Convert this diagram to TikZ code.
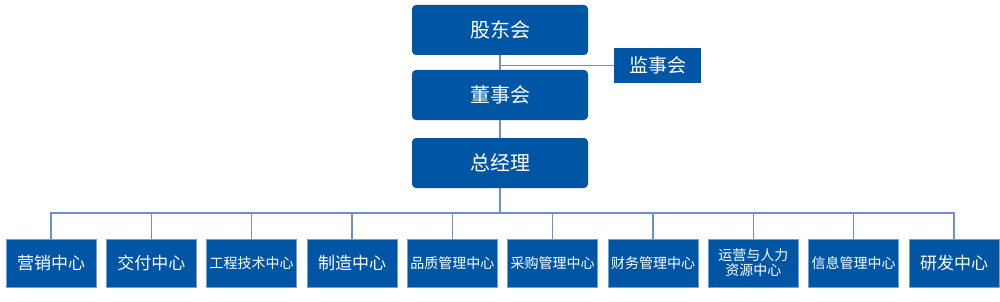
\documentclass[tikz,border=0pt]{standalone}
\usepackage{fontspec}
\newfontfamily\cjk{Noto Sans CJK SC}
\definecolor{boxblue}{HTML}{0055A5}
\definecolor{linkblue}{HTML}{6C8FD2}
\begin{document}
\begin{tikzpicture}[x=1pt,y=-1pt,
  topbox/.style={fill=boxblue,rounded corners=4pt,minimum width=176pt,minimum height=50pt,inner sep=0pt,text=white,font=\cjk\fontsize{20}{22}\selectfont},
  sidebox/.style={fill=boxblue,minimum width=87pt,minimum height=35pt,inner sep=0pt,text=white,font=\cjk\fontsize{19}{21}\selectfont},
  deptbox/.style={fill=boxblue,draw=boxblue!55!white,line width=0.6pt,minimum width=90pt,minimum height=48pt,inner sep=0pt,text=white,align=center,font=\cjk\fontsize{14}{16}\selectfont},
  deptbig/.style={deptbox,font=\cjk\fontsize{17}{19}\selectfont},
  link/.style={draw=linkblue,line width=1.2pt}]
\useasboundingbox (0,0) rectangle (1000,302);
\node[topbox] (gd) at (500,30) {股东会};
\node[topbox] (ds) at (500,95) {董事会};
\node[topbox] (zj) at (500,163) {总经理};
\node[sidebox] (js) at (657.5,65.5) {监事会};
\coordinate (jn) at (500,65.5);
\draw[link] (gd) -- (ds);
\draw[link] (jn) -- (js);
\draw[link] (ds) -- (zj);
\coordinate (bus) at (500,213);
\draw[link] (zj) -- (bus);
\node[deptbig] (d1) at (51,263) {营销中心};
\node[deptbig] (d2) at (151.3,263) {交付中心};
\node[deptbox] (d3) at (251.7,263) {工程技术中心};
\node[deptbig] (d4) at (352,263) {制造中心};
\node[deptbox] (d5) at (452.3,263) {品质管理中心};
\node[deptbox] (d6) at (552.7,263) {采购管理中心};
\node[deptbox] (d7) at (653,263) {财务管理中心};
\node[deptbox,font=\cjk\fontsize{14}{15}\selectfont] (d8) at (753.3,263) {运营与人力\\资源中心};
\node[deptbox] (d9) at (853.7,263) {信息管理中心};
\node[deptbig] (d10) at (954,263) {研发中心};
\draw[link] (d1.north) |- (bus) -| (d10.north);
\foreach \i in {2,...,9} {\draw[link] (d\i.north) -- (d\i.north |- bus);}
\end{tikzpicture}
\end{document}
